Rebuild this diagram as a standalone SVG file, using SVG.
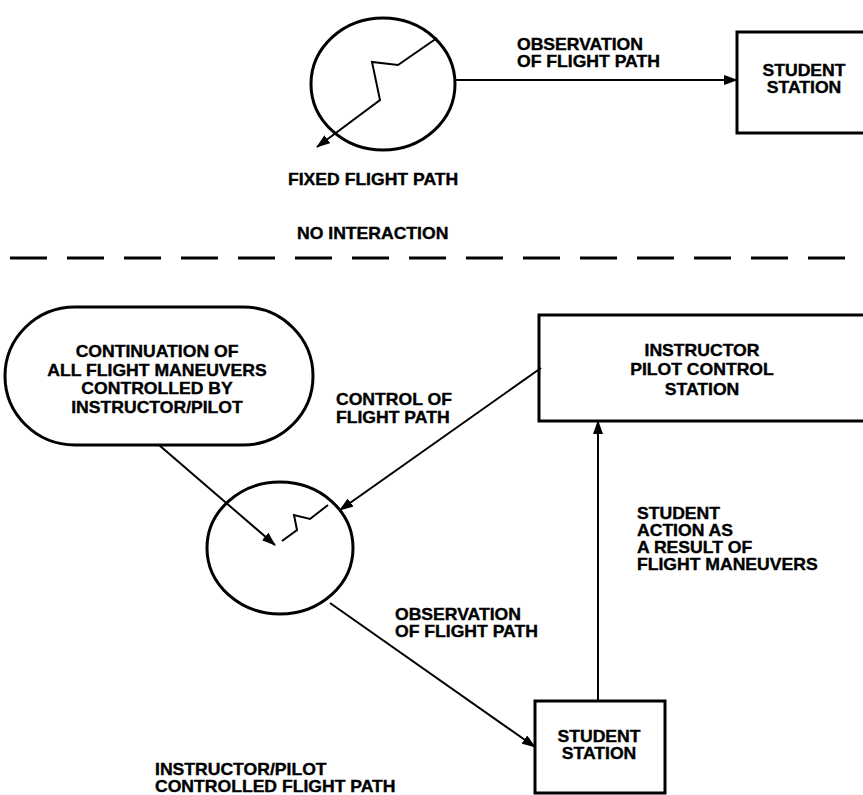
<svg xmlns="http://www.w3.org/2000/svg" width="863" height="795" viewBox="0 0 863 795">
  <style>
    .t { font-family: "Liberation Sans", Arial, Helvetica, sans-serif; font-weight: bold; font-size: 16px; fill: #000; stroke: #000; stroke-width: 0.35; }
    .c { text-anchor: middle; }
    .shape { fill: none; stroke: #000; stroke-width: 3; }
    .conn { fill: none; stroke: #000; stroke-width: 2; }
    .dash { fill: none; stroke: #000; stroke-width: 3; stroke-dasharray: 37 20; }
  </style>
  <defs>
    <marker id="arrow" markerUnits="userSpaceOnUse" markerWidth="14" markerHeight="10" refX="13" refY="5" orient="auto">
      <path d="M0,0 L14,5 L0,10 z" fill="#000"/>
    </marker>
  </defs>
  <rect width="863" height="795" fill="#fff"/>

  <!-- Top section -->
  <g id="fixed-path-circle">
    <ellipse class="shape" cx="383" cy="84" rx="72" ry="66"/>
    <path class="conn" d="M437,38 L398,65 L372,62 L380,100 L317,147" marker-end="url(#arrow)"/>
  </g>
  <g id="top-student-station">
    <rect class="shape" x="737" y="32" width="140" height="101"/>
    <text class="t c" transform="translate(804,76) scale(1.1,1)"><tspan x="0">STUDENT</tspan><tspan x="0" dy="17">STATION</tspan></text>
  </g>
  <g id="top-labels">
    <text class="t" transform="translate(517,50) scale(1.1,1)"><tspan x="0">OBSERVATION</tspan><tspan x="0" dy="17">OF FLIGHT PATH</tspan></text>
    <text class="t" transform="translate(288,185) scale(1.1,1)">FIXED FLIGHT PATH</text>
    <text class="t" transform="translate(297,239) scale(1.1,1)">NO INTERACTION</text>
  </g>

  <!-- Divider -->
  <path class="dash" d="M10,258 L863,258"/>

  <!-- Bottom section -->
  <g id="continuation-oval">
    <rect class="shape" x="5" y="307" width="308" height="138" rx="70" ry="69"/>
    <text class="t c" transform="translate(157,357) scale(1.1,1)"><tspan x="0">CONTINUATION OF</tspan><tspan x="0" dy="19">ALL FLIGHT MANEUVERS</tspan><tspan x="0" dy="18.5">CONTROLLED BY</tspan><tspan x="0" dy="18.5">INSTRUCTOR/PILOT</tspan></text>
  </g>
  <g id="instructor-station">
    <rect class="shape" x="539" y="315" width="340" height="106"/>
    <text class="t c" transform="translate(702,356) scale(1.1,1)"><tspan x="0">INSTRUCTOR</tspan><tspan x="0" dy="19.5">PILOT CONTROL</tspan><tspan x="0" dy="19.5">STATION</tspan></text>
  </g>
  <g id="controlled-path-circle">
    <ellipse class="shape" cx="280" cy="548" rx="73" ry="66"/>
    <path class="conn" d="M328,505 L310,519 L294,515 L297,530 L282,541"/>
  </g>
  <g id="bottom-student-station">
    <rect class="shape" x="535" y="701" width="130" height="92"/>
    <text class="t c" transform="translate(599,742) scale(1.1,1)"><tspan x="0">STUDENT</tspan><tspan x="0" dy="17">STATION</tspan></text>
  </g>
  <g id="bottom-labels">
    <text class="t" transform="translate(336,405) scale(1.1,1)"><tspan x="0">CONTROL OF</tspan><tspan x="0" dy="18">FLIGHT PATH</tspan></text>
    <text class="t" transform="translate(637,519) scale(1.1,1)"><tspan x="0">STUDENT</tspan><tspan x="0" dy="17">ACTION AS</tspan><tspan x="0" dy="17">A RESULT OF</tspan><tspan x="0" dy="17">FLIGHT MANEUVERS</tspan></text>
    <text class="t" transform="translate(395,620) scale(1.1,1)"><tspan x="0">OBSERVATION</tspan><tspan x="0" dy="17">OF FLIGHT PATH</tspan></text>
    <text class="t" transform="translate(155,775) scale(1.1,1)"><tspan x="0">INSTRUCTOR/PILOT</tspan><tspan x="0" dy="17">CONTROLLED FLIGHT PATH</tspan></text>
  </g>

  <!-- Connectors -->
  <g id="connectors">
    <path class="conn" d="M455,80 L737,80" marker-end="url(#arrow)"/>
    <path class="conn" d="M159,445 L275,545" marker-end="url(#arrow)"/>
    <path class="conn" d="M541,368 L340,510" marker-end="url(#arrow)"/>
    <path class="conn" d="M330,603 L535,747" marker-end="url(#arrow)"/>
    <path class="conn" d="M598,701 L598,421" marker-end="url(#arrow)"/>
  </g>
</svg>
